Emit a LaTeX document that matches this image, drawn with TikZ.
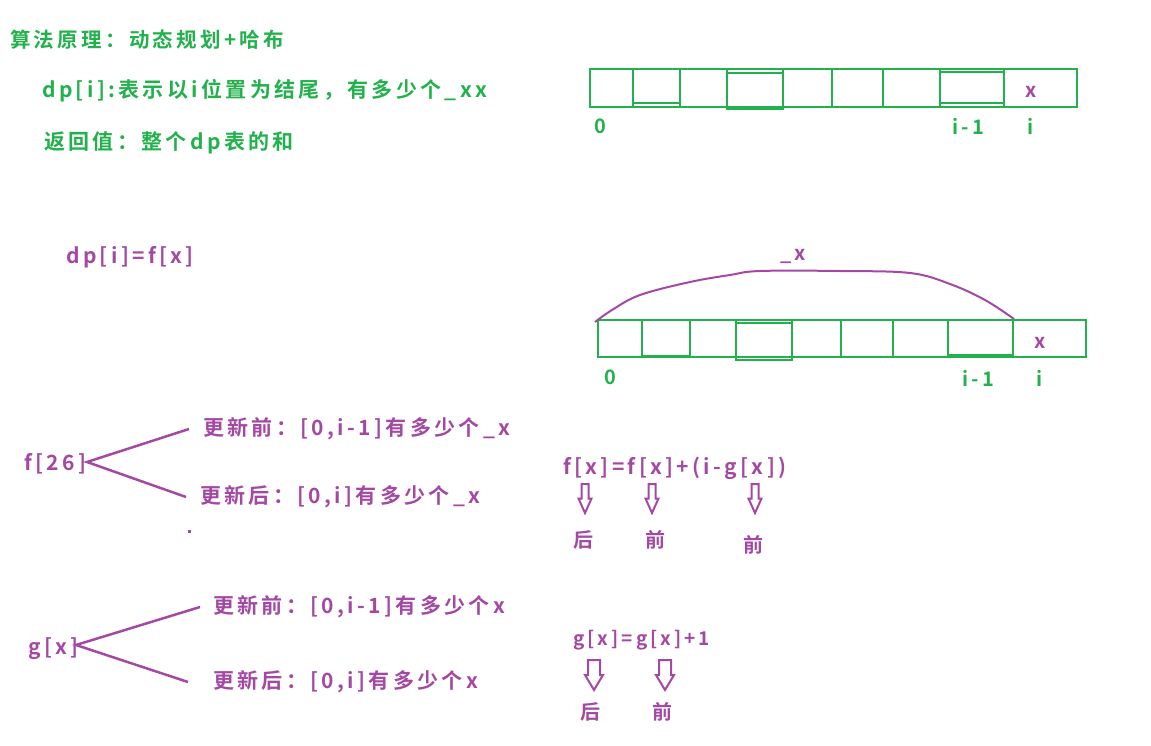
\documentclass[tikz,border=0pt]{standalone}
\usepackage{fontspec}
\setmainfont{Noto Sans CJK SC}[LetterSpace=16, BoldFont={Noto Sans CJK SC Bold}]
\definecolor{grn}{RGB}{34,177,76}
\definecolor{pur}{RGB}{163,73,164}
\newcommand\hollowdown[5]{% x, ytop, shaft half, head half, head start
  \draw[hollow] ({#1-#3},#2) -- ({#1+#3},#2) -- ({#1+#3},{#2+#5}) -- ({#1+#4},{#2+#5}) -- (#1,{#2+2*#5}) -- ({#1-#4},{#2+#5}) -- ({#1-#3},{#2+#5}) -- cycle;}
\begin{document}
\begin{tikzpicture}[x=1pt,y=-1pt,
  txt/.style={inner sep=0pt, anchor=west, font=\fontsize{21}{24}\selectfont\bfseries},
  g/.style={txt,text=grn},
  p/.style={txt,text=pur},
  lbl/.style={inner sep=0pt, anchor=center, font=\fontsize{20}{24}\selectfont\bfseries},
  cell/.style={draw=grn, line width=2.8pt},
  branch/.style={draw=pur, line width=2.5pt},
  hollow/.style={draw=pur, line width=2pt},
  bracecurve/.style={draw=pur, line width=2pt}]
\useasboundingbox (0,0) rectangle (1151,746);
% header texts
\node[g, font=\fontsize{20.5}{24}\selectfont\bfseries] (title) at (10,40) {算法原理：动态规划+哈布};
\node[g] (def) at (42,91) {dp[i]:表示以i位置为结尾，有多少个\_xx};
\node[g] (ret) at (44,143) {返回值：整个dp表的和};
% top array
\draw[cell] (590,69) rectangle (1077,107);
\foreach \xx in {633,680,727,783,832,883,940,1004} \draw[cell] (\xx,69) -- (\xx,107);
\draw[cell] (633,69) rectangle (680,103);
\draw[cell] (727,73) rectangle (783,109);
\draw[cell] (940,72) rectangle (1004,103);
\node[lbl, text=pur] (xa) at (1031,92) {x};
\node[lbl, text=grn] (za) at (600,126) {0};
\node[lbl, text=grn] (ima) at (968,126) {i-1};
\node[lbl, text=grn] (ia) at (1031,126) {i};
% dp[i]=f[x]
\node[p] (dpf) at (66,257) {dp[i]=f[x]};
% second array
\draw[cell] (598,320) rectangle (1086,357);
\foreach \xx in {642,690,736,792,841,893,948,1013} \draw[cell] (\xx,320) -- (\xx,357);
\draw[cell] (642,320) rectangle (690,356);
\draw[cell] (736,323) rectangle (792,360);
\draw[cell] (948,320) rectangle (1013,355);
\node[lbl, text=pur] (xb) at (1040,343) {x};
\node[lbl, text=grn] (zb) at (610,377) {0};
\node[lbl, text=grn] (imb) at (978,378) {i-1};
\node[lbl, text=grn] (ib) at (1040,378) {i};
\coordinate (cs) at (595,322);
\coordinate (ce) at (1014,319);
\draw[bracecurve] plot[smooth, tension=0.6] coordinates {(cs) (612,310) (640,295) (690,282) (730,275) (760,271) (840,271) (910,273) (950,284) (985,300) (ce)};
\node[lbl, text=pur] (ux) at (793,256) {\_x};
% f[26]
\node[p] (f26) at (24,464) {f[26]};
\node[p] (fb1) at (203,429) {更新前：[0,i-1]有多少个\_x};
\node[p] (fb2) at (200,497) {更新后：[0,i]有多少个\_x};
\coordinate (fv) at (87,462);
\draw[branch] ([xshift=-14pt]fb1.west) -- (fv) -- ([xshift=-14pt]fb2.west);
\fill[pur] (187.5,529.5) rectangle (190.5,532.5);
% formula f
\node[p] (ff) at (563,468) {f[x]=f[x]+(i-g[x])};
\hollowdown{585}{484}{3.5}{6.5}{14.5}
\hollowdown{652}{484}{3.5}{6.5}{14.5}
\hollowdown{755}{484}{3.5}{6.5}{14.5}
\node[lbl, text=pur] (h1) at (583,540) {后};
\node[lbl, text=pur] (q1) at (655,540) {前};
\node[lbl, text=pur] (q2) at (753,545) {前};
% g[x]
\node[p] (gx) at (28,649) {g[x]};
\node[p] (gb1) at (213,607) {更新前：[0,i-1]有多少个x};
\node[p] (gb2) at (213,682) {更新后：[0,i]有多少个x};
\coordinate (gv) at (76,645);
\draw[branch] ([xshift=-13pt]gb1.west) -- (gv) -- ([xshift=-25pt]gb2.west);
% formula g
\node[p, font=\fontsize{19}{22}\selectfont\bfseries] (gf) at (573,640) {g[x]=g[x]+1};
\hollowdown{594}{660}{6}{9}{15}
\hollowdown{665}{660}{6}{9}{15}
\node[lbl, text=pur] (h2) at (590,712) {后};
\node[lbl, text=pur] (q3) at (662,712) {前};
\end{tikzpicture}
\end{document}
